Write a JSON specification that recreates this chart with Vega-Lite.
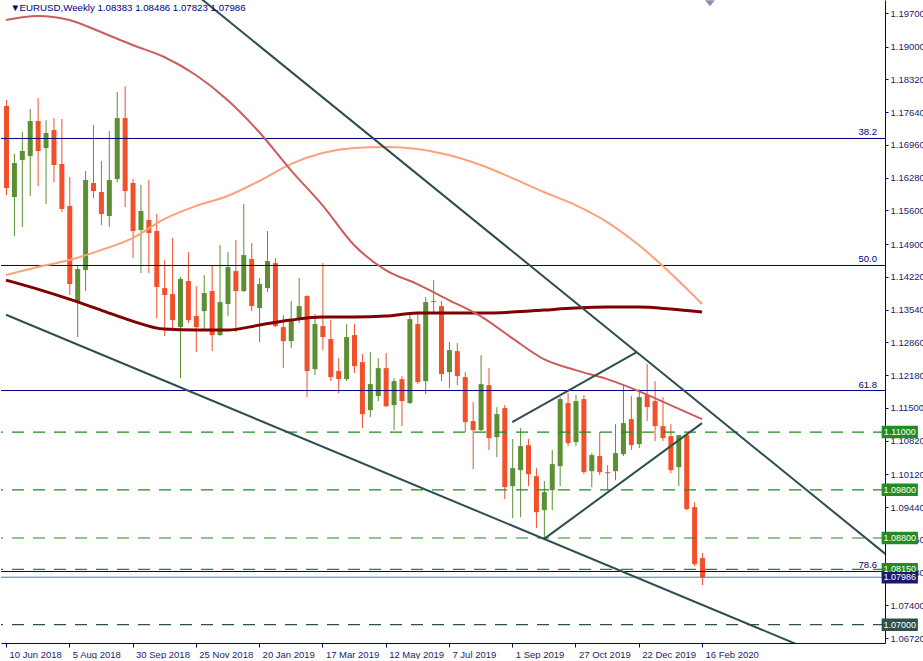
{
  "$schema": "https://vega.github.io/schema/vega-lite/v6.json",
  "width": 884,
  "height": 643,
  "padding": 0,
  "autosize": {"type": "pad"},
  "background": "white",
  "config": {
    "view": {"stroke": null},
    "font": "Liberation Sans",
    "axis": {"domainColor": "#000080", "tickColor": "#000080", "labelColor": "#1c1c6c", "labelFont": "Liberation Sans", "labelFontSize": 9.5, "grid": false, "tickSize": 3, "labelOverlap": false, "labelBound": false, "labelFlush": false}
  },
  "datasets": {
    "candles": [
      {"d":"2018-06-10","o":1.17769,"h":1.17893,"l":1.15920,"c":1.16066},
      {"d":"2018-06-17","o":1.15879,"h":1.16772,"l":1.15069,"c":1.16585},
      {"d":"2018-06-24","o":1.16647,"h":1.17229,"l":1.15256,"c":1.16834},
      {"d":"2018-07-01","o":1.16730,"h":1.17706,"l":1.15900,"c":1.17457},
      {"d":"2018-07-08","o":1.17457,"h":1.17935,"l":1.16107,"c":1.16834},
      {"d":"2018-07-15","o":1.16896,"h":1.17478,"l":1.15733,"c":1.17208},
      {"d":"2018-07-22","o":1.17270,"h":1.17519,"l":1.16190,"c":1.16543},
      {"d":"2018-07-29","o":1.16564,"h":1.17499,"l":1.15567,"c":1.15630},
      {"d":"2018-08-05","o":1.15692,"h":1.16294,"l":1.13843,"c":1.14072},
      {"d":"2018-08-12","o":1.13698,"h":1.14466,"l":1.12971,"c":1.14383},
      {"d":"2018-08-19","o":1.14363,"h":1.16419,"l":1.13927,"c":1.16232},
      {"d":"2018-08-26","o":1.16170,"h":1.17374,"l":1.15858,"c":1.16003},
      {"d":"2018-09-02","o":1.15983,"h":1.16626,"l":1.15297,"c":1.15526},
      {"d":"2018-09-09","o":1.15484,"h":1.17249,"l":1.15256,"c":1.16232},
      {"d":"2018-09-16","o":1.16253,"h":1.18059,"l":1.16190,"c":1.17519},
      {"d":"2018-09-23","o":1.17519,"h":1.18184,"l":1.15671,"c":1.16003},
      {"d":"2018-09-30","o":1.16170,"h":1.16253,"l":1.14612,"c":1.15173},
      {"d":"2018-10-07","o":1.15193,"h":1.16128,"l":1.14300,"c":1.15588},
      {"d":"2018-10-14","o":1.15401,"h":1.16232,"l":1.14300,"c":1.15131},
      {"d":"2018-10-21","o":1.15173,"h":1.15526,"l":1.13366,"c":1.14010},
      {"d":"2018-10-28","o":1.13989,"h":1.14570,"l":1.12992,"c":1.13843},
      {"d":"2018-11-04","o":1.13864,"h":1.15027,"l":1.13117,"c":1.13324},
      {"d":"2018-11-11","o":1.13179,"h":1.14217,"l":1.12120,"c":1.14176},
      {"d":"2018-11-18","o":1.14134,"h":1.14736,"l":1.13262,"c":1.13324},
      {"d":"2018-11-25","o":1.13407,"h":1.14030,"l":1.12660,"c":1.13179},
      {"d":"2018-12-02","o":1.13511,"h":1.14259,"l":1.13096,"c":1.13885},
      {"d":"2018-12-09","o":1.13927,"h":1.14446,"l":1.12680,"c":1.13013},
      {"d":"2018-12-16","o":1.13013,"h":1.14882,"l":1.12992,"c":1.13698},
      {"d":"2018-12-23","o":1.13657,"h":1.14736,"l":1.13407,"c":1.14425},
      {"d":"2018-12-30","o":1.14342,"h":1.14986,"l":1.13075,"c":1.13927},
      {"d":"2019-01-06","o":1.13927,"h":1.15733,"l":1.13906,"c":1.14674},
      {"d":"2019-01-13","o":1.14591,"h":1.14923,"l":1.13511,"c":1.13615},
      {"d":"2019-01-20","o":1.13573,"h":1.14197,"l":1.12867,"c":1.14072},
      {"d":"2019-01-27","o":1.13989,"h":1.15173,"l":1.13906,"c":1.14550},
      {"d":"2019-02-03","o":1.14508,"h":1.14612,"l":1.13180,"c":1.13200},
      {"d":"2019-02-10","o":1.13179,"h":1.13428,"l":1.12327,"c":1.12888},
      {"d":"2019-02-17","o":1.12888,"h":1.13719,"l":1.12743,"c":1.13303},
      {"d":"2019-02-24","o":1.13345,"h":1.14197,"l":1.13262,"c":1.13615},
      {"d":"2019-03-03","o":1.13823,"h":1.13840,"l":1.11725,"c":1.12265},
      {"d":"2019-03-10","o":1.12307,"h":1.13449,"l":1.12182,"c":1.13241},
      {"d":"2019-03-17","o":1.13200,"h":1.14508,"l":1.12701,"c":1.12971},
      {"d":"2019-03-24","o":1.12930,"h":1.13324,"l":1.12057,"c":1.12140},
      {"d":"2019-03-31","o":1.12265,"h":1.12535,"l":1.11808,"c":1.12099},
      {"d":"2019-04-07","o":1.12099,"h":1.13241,"l":1.12057,"c":1.12971},
      {"d":"2019-04-14","o":1.13013,"h":1.13241,"l":1.12224,"c":1.12369},
      {"d":"2019-04-21","o":1.12452,"h":1.12618,"l":1.11081,"c":1.11372},
      {"d":"2019-04-28","o":1.11455,"h":1.12660,"l":1.11310,"c":1.11995},
      {"d":"2019-05-05","o":1.11746,"h":1.12535,"l":1.11642,"c":1.12327},
      {"d":"2019-05-12","o":1.12327,"h":1.12639,"l":1.11517,"c":1.11538},
      {"d":"2019-05-19","o":1.11559,"h":1.12120,"l":1.11040,"c":1.12057},
      {"d":"2019-05-26","o":1.12099,"h":1.12161,"l":1.11123,"c":1.11642},
      {"d":"2019-06-02","o":1.11601,"h":1.13490,"l":1.11580,"c":1.13345},
      {"d":"2019-06-09","o":1.13241,"h":1.13449,"l":1.11995,"c":1.12037},
      {"d":"2019-06-16","o":1.12057,"h":1.13802,"l":1.11787,"c":1.13698},
      {"d":"2019-06-23","o":1.13719,"h":1.14155,"l":1.13449,"c":1.13698},
      {"d":"2019-06-30","o":1.13615,"h":1.13719,"l":1.12057,"c":1.12203},
      {"d":"2019-07-07","o":1.12244,"h":1.12867,"l":1.11912,"c":1.12701},
      {"d":"2019-07-14","o":1.12680,"h":1.12847,"l":1.11974,"c":1.12161},
      {"d":"2019-07-21","o":1.12140,"h":1.12244,"l":1.10998,"c":1.11206},
      {"d":"2019-07-28","o":1.11227,"h":1.11621,"l":1.10230,"c":1.11040},
      {"d":"2019-08-04","o":1.11040,"h":1.12597,"l":1.11019,"c":1.11995},
      {"d":"2019-08-11","o":1.11974,"h":1.12327,"l":1.10624,"c":1.10874},
      {"d":"2019-08-18","o":1.10894,"h":1.11517,"l":1.10479,"c":1.11372},
      {"d":"2019-08-25","o":1.11497,"h":1.11559,"l":1.09607,"c":1.09856},
      {"d":"2019-09-01","o":1.09877,"h":1.10853,"l":1.09212,"c":1.10251},
      {"d":"2019-09-08","o":1.10209,"h":1.11081,"l":1.09233,"c":1.10708},
      {"d":"2019-09-15","o":1.10728,"h":1.10853,"l":1.09877,"c":1.10126},
      {"d":"2019-09-22","o":1.10084,"h":1.10251,"l":1.09005,"c":1.09337},
      {"d":"2019-09-29","o":1.09378,"h":1.09981,"l":1.08776,"c":1.09752},
      {"d":"2019-10-06","o":1.09794,"h":1.10624,"l":1.09378,"c":1.10334},
      {"d":"2019-10-13","o":1.10292,"h":1.11725,"l":1.09877,"c":1.11684},
      {"d":"2019-10-20","o":1.11601,"h":1.11808,"l":1.10708,"c":1.10770},
      {"d":"2019-10-27","o":1.10791,"h":1.11767,"l":1.10708,"c":1.11642},
      {"d":"2019-11-03","o":1.11684,"h":1.11767,"l":1.10126,"c":1.10168},
      {"d":"2019-11-10","o":1.10188,"h":1.10562,"l":1.09856,"c":1.10521},
      {"d":"2019-11-17","o":1.10500,"h":1.10998,"l":1.10105,"c":1.10168},
      {"d":"2019-11-24","o":1.10168,"h":1.10313,"l":1.09794,"c":1.10147},
      {"d":"2019-12-01","o":1.10188,"h":1.11164,"l":1.10001,"c":1.10562},
      {"d":"2019-12-08","o":1.10541,"h":1.11995,"l":1.10500,"c":1.11185},
      {"d":"2019-12-15","o":1.11268,"h":1.11746,"l":1.10624,"c":1.10728},
      {"d":"2019-12-22","o":1.10749,"h":1.11891,"l":1.10666,"c":1.11725},
      {"d":"2019-12-29","o":1.11767,"h":1.12410,"l":1.11227,"c":1.11517},
      {"d":"2020-01-05","o":1.11642,"h":1.12057,"l":1.10811,"c":1.11123},
      {"d":"2020-01-12","o":1.11123,"h":1.11725,"l":1.10811,"c":1.10874},
      {"d":"2020-01-19","o":1.10915,"h":1.11164,"l":1.10147,"c":1.10209},
      {"d":"2020-01-26","o":1.10271,"h":1.10936,"l":1.09877,"c":1.10936},
      {"d":"2020-02-02","o":1.10936,"h":1.10957,"l":1.09378,"c":1.09399},
      {"d":"2020-02-09","o":1.09441,"h":1.09545,"l":1.08215,"c":1.08257},
      {"d":"2020-02-16","o":1.08383,"h":1.08486,"l":1.07823,"c":1.07986}
    ],
    "ma": [
      {"d":"2018-06-10","fast":1.19555,"mid":1.14259,"slow":1.14155},
      {"d":"2018-07-08","fast":1.19638,"mid":1.14425,"slow":1.13968},
      {"d":"2018-08-05","fast":1.19555,"mid":1.14570,"slow":1.13760},
      {"d":"2018-09-02","fast":1.19305,"mid":1.14778,"slow":1.13532},
      {"d":"2018-09-30","fast":1.19035,"mid":1.15027,"slow":1.13303},
      {"d":"2018-10-28","fast":1.18786,"mid":1.15422,"slow":1.13137},
      {"d":"2018-11-25","fast":1.18412,"mid":1.15692,"slow":1.13117},
      {"d":"2018-12-23","fast":1.17893,"mid":1.15900,"slow":1.13117},
      {"d":"2019-01-20","fast":1.17229,"mid":1.16211,"slow":1.13220},
      {"d":"2019-02-17","fast":1.16439,"mid":1.16564,"slow":1.13324},
      {"d":"2019-03-17","fast":1.15713,"mid":1.16793,"slow":1.13387},
      {"d":"2019-04-14","fast":1.14882,"mid":1.16896,"slow":1.13387},
      {"d":"2019-05-12","fast":1.14363,"mid":1.16917,"slow":1.13407},
      {"d":"2019-06-09","fast":1.14072,"mid":1.16876,"slow":1.13470},
      {"d":"2019-07-07","fast":1.13740,"mid":1.16751,"slow":1.13470},
      {"d":"2019-08-04","fast":1.13407,"mid":1.16543,"slow":1.13470},
      {"d":"2019-09-01","fast":1.12950,"mid":1.16273,"slow":1.13490},
      {"d":"2019-09-29","fast":1.12514,"mid":1.15983,"slow":1.13532},
      {"d":"2019-10-27","fast":1.12286,"mid":1.15713,"slow":1.13573},
      {"d":"2019-11-24","fast":1.12099,"mid":1.15360,"slow":1.13594},
      {"d":"2019-12-22","fast":1.11850,"mid":1.14882,"slow":1.13594},
      {"d":"2020-01-19","fast":1.11559,"mid":1.14300,"slow":1.13553},
      {"d":"2020-02-16","fast":1.11268,"mid":1.13657,"slow":1.13490}
    ],
    "trend": [
      {"line":"A","d":"2018-11-25","p":1.20086},
      {"line":"A","d":"2020-08-02","p":1.08360},
      {"line":"B","d":"2018-06-10","p":1.13436},
      {"line":"B","d":"2020-08-02","p":1.05771},
      {"line":"C","d":"2019-09-01","p":1.11206},
      {"line":"C","d":"2019-12-20T06:00:00Z","p":1.12659},
      {"line":"D","d":"2019-09-29","p":1.08776},
      {"line":"D","d":"2020-02-16","p":1.11185}
    ],
    "fib": [
      {"level":"38.2","p":1.17095},
      {"level":"50.0","p":1.14458},
      {"level":"61.8","p":1.11862},
      {"level":"78.6","p":1.08105}
    ],
    "levels": [
      {"p":1.11000,"kind":"resistance","tag":"1.11000"},
      {"p":1.09800,"kind":"resistance","tag":"1.09800"},
      {"p":1.08800,"kind":"resistance","tag":"1.08800"},
      {"p":1.08150,"kind":"resistance","tag":"1.08150"},
      {"p":1.07000,"kind":"support","tag":"1.07000"},
      {"p":1.07986,"kind":"bid","tag":"1.07986"}
    ]
  },
  "layer": [
    {
      "data": {"name": "candles"},
      "mark": {"type": "rule", "strokeWidth": 1, "xOffset": 0.5},
      "encoding": {
        "x": {"field": "d", "type": "temporal",
          "scale": {"type": "utc", "domain": [{"year": 2018, "month": 6, "date": 10, "utc": true}, {"year": 2020, "month": 7, "date": 22, "hours": 12, "utc": true}]},
          "axis": {"orient": "bottom", "labelExpr": "utcFormat(datum.value, '%-d %b %Y')", "labelAlign": "left", "labelBaseline": "top", "labelOffset": 3, "labelPadding": 2, "labelOverlap": false, "labelBound": false, "labelFlush": false, "tickSize": 4, "tickCount": 40, "title": null,
            "values": [
              {"year": 2018, "month": 6, "date": 10, "utc": true},
              {"year": 2018, "month": 8, "date": 5, "utc": true},
              {"year": 2018, "month": 9, "date": 30, "utc": true},
              {"year": 2018, "month": 11, "date": 25, "utc": true},
              {"year": 2019, "month": 1, "date": 20, "utc": true},
              {"year": 2019, "month": 3, "date": 17, "utc": true},
              {"year": 2019, "month": 5, "date": 12, "utc": true},
              {"year": 2019, "month": 7, "date": 7, "utc": true},
              {"year": 2019, "month": 9, "date": 1, "utc": true},
              {"year": 2019, "month": 10, "date": 27, "utc": true},
              {"year": 2019, "month": 12, "date": 22, "utc": true},
              {"year": 2020, "month": 2, "date": 16, "utc": true}
            ]}},
        "y": {"field": "l", "type": "quantitative",
          "scale": {"domain": [1.0662, 1.1997], "nice": false, "zero": false},
          "axis": {"orient": "right", "format": ".5f", "labelAlign": "left", "labelBaseline": "middle", "labelPadding": 2, "labelOverlap": false, "labelBound": false, "labelFlush": false, "tickSize": 3, "tickCount": 40, "title": null,
            "values": [1.197, 1.19, 1.1832, 1.1764, 1.1696, 1.1628, 1.156, 1.149, 1.1422, 1.1354, 1.1286, 1.1218, 1.115, 1.1082, 1.1012, 1.0944, 1.0876, 1.0808, 1.074, 1.0672]}},
        "y2": {"field": "h"},
        "color": {"condition": {"test": "datum.c >= datum.o", "value": "#5b8f31"}, "value": "#f2502a"}
      }
    },
    {
      "data": {"name": "candles"},
      "mark": {"type": "bar", "width": 5, "xOffset": 0.5},
      "encoding": {
        "x": {"field": "d", "type": "temporal", "scale": {"type": "utc"}},
        "y": {"field": "o", "type": "quantitative"},
        "y2": {"field": "c"},
        "color": {"condition": {"test": "datum.c >= datum.o", "value": "#5b8f31"}, "value": "#f2502a"}
      }
    },
    {
      "data": {"name": "fib"},
      "mark": {"type": "rule", "color": "#000080", "strokeWidth": 1},
      "encoding": {
        "y": {"field": "p", "type": "quantitative"}
      }
    },
    {
      "data": {"name": "fib"},
      "mark": {"type": "text", "align": "right", "baseline": "bottom", "dx": -3, "dy": -1, "color": "#000080", "font": "Liberation Sans", "fontSize": 9.5},
      "encoding": {
        "x": {"datum": {"year": 2020, "month": 7, "date": 22, "hours": 12, "utc": true}, "type": "temporal", "scale": {"type": "utc"}},
        "y": {"field": "p", "type": "quantitative"},
        "text": {"field": "level"}
      }
    },
    {
      "data": {"name": "levels"},
      "transform": [{"filter": "datum.kind !== 'bid'"}],
      "mark": {"type": "rule", "strokeWidth": 1.2, "strokeDash": [12, 9]},
      "encoding": {
        "y": {"field": "p", "type": "quantitative"},
        "color": {"field": "kind", "type": "nominal", "scale": {"domain": ["resistance", "support", "bid"], "range": ["#1e8c1e", "#2f4f4f", "#778899"]}, "legend": null}
      }
    },
    {
      "data": {"name": "levels"},
      "transform": [{"filter": "datum.kind === 'bid'"}],
      "mark": {"type": "rule", "strokeWidth": 1},
      "encoding": {
        "y": {"field": "p", "type": "quantitative"},
        "color": {"field": "kind", "type": "nominal", "legend": null}
      }
    },
    {
      "data": {"name": "ma"},
      "mark": {"type": "line", "color": "#800000", "strokeWidth": 3, "interpolate": "monotone"},
      "encoding": {
        "x": {"field": "d", "type": "temporal", "scale": {"type": "utc"}},
        "y": {"field": "slow", "type": "quantitative"}
      }
    },
    {
      "data": {"name": "ma"},
      "mark": {"type": "line", "color": "#ffa07a", "strokeWidth": 2, "interpolate": "monotone"},
      "encoding": {
        "x": {"field": "d", "type": "temporal", "scale": {"type": "utc"}},
        "y": {"field": "mid", "type": "quantitative"}
      }
    },
    {
      "data": {"name": "ma"},
      "mark": {"type": "line", "color": "#cd5c5c", "strokeWidth": 2, "interpolate": "monotone"},
      "encoding": {
        "x": {"field": "d", "type": "temporal", "scale": {"type": "utc"}},
        "y": {"field": "fast", "type": "quantitative"}
      }
    },
    {
      "data": {"name": "trend"},
      "mark": {"type": "line", "color": "#2f4f4f", "strokeWidth": 2, "clip": true},
      "encoding": {
        "x": {"field": "d", "type": "temporal", "scale": {"type": "utc"}},
        "y": {"field": "p", "type": "quantitative"},
        "detail": {"field": "line"}
      }
    },
    {
      "data": {"name": "levels"},
      "mark": {"type": "point", "shape": "M-2.9,-1H2.9V1H-2.9Z", "filled": true, "opacity": 1, "size": 156, "clip": false},
      "encoding": {
        "x": {"datum": {"year": 2020, "month": 8, "date": 9, "utc": true}, "type": "temporal", "scale": {"type": "utc"}},
        "y": {"field": "p", "type": "quantitative"},
        "color": {"field": "kind", "type": "nominal", "scale": {"domain": ["resistance", "support", "bid"], "range": ["#228b22", "#2f4f4f", "#191970"]}, "legend": null}
      }
    },
    {
      "data": {"name": "levels"},
      "mark": {"type": "text", "align": "center", "baseline": "middle", "color": "white", "font": "Liberation Sans", "fontSize": 9, "clip": false},
      "encoding": {
        "x": {"datum": {"year": 2020, "month": 8, "date": 9, "utc": true}, "type": "temporal", "scale": {"type": "utc"}},
        "y": {"field": "p", "type": "quantitative"},
        "text": {"field": "tag"}
      }
    },
    {
      "data": {"values": [{"label": "▼", "d": "2018-06-14", "p": 1.19810}, {"label": "EURUSD,Weekly  1.08383 1.08486 1.07823 1.07986", "d": "2018-06-22", "p": 1.19810}]},
      "mark": {"type": "text", "align": "left", "baseline": "middle", "color": "#000080", "font": "Liberation Sans", "fontSize": 9.7},
      "encoding": {
        "x": {"field": "d", "type": "temporal", "scale": {"type": "utc"}},
        "y": {"field": "p", "type": "quantitative"},
        "text": {"field": "label"}
      }
    },
    {
      "data": {"values": [{"d": "2020-02-23", "p": 1.1990}]},
      "mark": {"type": "point", "shape": "M-1,-0.6L1,-0.6L0,0.6Z", "filled": true, "opacity": 1, "size": 100, "color": "#8a90aa", "clip": true},
      "encoding": {
        "x": {"field": "d", "type": "temporal", "scale": {"type": "utc"}},
        "y": {"field": "p", "type": "quantitative"}
      }
    }
  ],
  "resolve": {"scale": {"color": "independent"}}
}
